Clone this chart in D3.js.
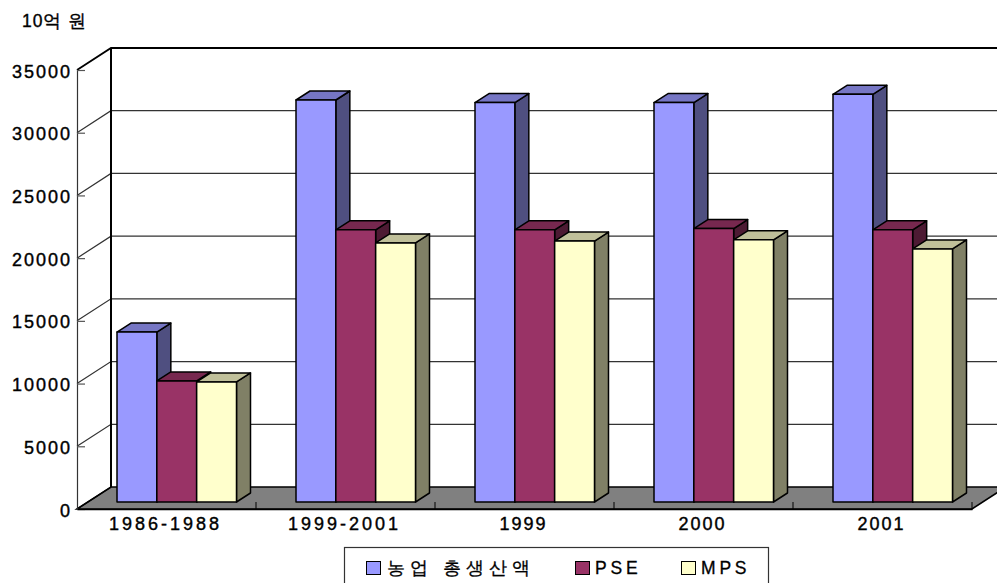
<!DOCTYPE html>
<html lang="ko">
<head>
<meta charset="utf-8">
<script src="https://cdn.jsdelivr.net/npm/d3@7"></script>
<style>
html,body{margin:0;padding:0;background:#fff;overflow:hidden}
svg{display:block}
text{font-family:"Liberation Sans",Arial,sans-serif;fill:#000}
</style>
</head>
<body>
<svg id="chart" width="997" height="583"></svg>
<script>
// Values in billions of won
const categories = ["1986-1988","1999-2001","1999","2000","2001"];
const seriesNames = ["농업 총생산액","PSE","MPS"];
const totalOutput = [13550,32050,31850,31850,32500];
const pse = [9650,21700,21700,21800,21700];
const mps = [9570,20650,20800,20900,20180];
const yTicks = [0,5000,10000,15000,20000,25000,30000,35000];
const frontColors = ["#9999ff","#993366","#ffffcc"];
const topColors = ["#7676c4","#77284f","#c0c09a"];
const sideColors = ["#4f4f80","#4d1a33","#808066"];

const series = [totalOutput,pse,mps];
const svg = d3.select("#chart");

// Oblique projection: the wall sits behind the front plane by (depthX, depthY)
const depthX = 34, depthY = -22;
const barShiftX = 10.5, barShiftY = -7;
const barDepthX = 14, barDepthY = -9;

const x = d3.scaleBand().domain(categories).range([77,972]);
const y = d3.scaleLinear().domain([0,35000]).range([509,70]);
const xInner = d3.scaleBand().domain(d3.range(series.length)).range([29.5,149]);

// Floor
svg.append("polygon")
  .attr("points",[[77,y(0)],[77+depthX,y(0)+depthY],[972+depthX,y(0)+depthY],[972,y(0)]].join(" "))
  .attr("fill","#808080").attr("stroke","#000").attr("stroke-width",1.6);

// Gridlines on both the side wall and the back wall
const grid = svg.append("g");
yTicks.filter(d=>d>0).forEach(d=>{
  const top = d===35000;
  grid.append("path")
    .attr("d",`M77,${y(d)}L${77+depthX},${y(d)+depthY}H997`)
    .attr("fill","none").attr("stroke",top?"#000":"#333")
    .attr("stroke-width",top?1.8:1.2);
});
grid.append("path").attr("d",`M77,${y(0)}L${77+depthX},${y(0)+depthY}`).attr("stroke","#000").attr("stroke-width",1.2);
grid.append("line").attr("x1",77+depthX).attr("x2",77+depthX)
  .attr("y1",y(35000)+depthY).attr("y2",y(0)+depthY)
  .attr("stroke","#000").attr("stroke-width",2);

// Value axis on the front edge
const yAxis = d3.axisRight(y).tickValues(yTicks).tickSize(8).tickPadding(0).tickFormat("");
svg.append("g").attr("transform","translate(77,0)").call(yAxis)
  .call(g=>g.selectAll("path").attr("stroke","#333").attr("stroke-width",1.2))
  .call(g=>g.selectAll("line").attr("stroke","#555").attr("stroke-width",1.2));
svg.append("g").selectAll("text").data(yTicks).join("text")
  .attr("x",72).attr("y",d=>y(d)+7.5).attr("text-anchor","end")
  .attr("font-size",18).attr("letter-spacing",2).attr("stroke","#000").attr("stroke-width",0.4)
  .text(d=>d);

// Category axis with separators between groups
const xAxis = d3.axisBottom(x).tickSize(0).tickPadding(0).tickFormat("");
svg.append("g").attr("transform",`translate(0,${y(0)})`).call(xAxis)
  .call(g=>g.selectAll("path").attr("stroke","#000").attr("stroke-width",1.6));
svg.append("g").selectAll("line").data(categories).join("line")
  .attr("x1",d=>x(d)+x.bandwidth()).attr("x2",d=>x(d)+x.bandwidth())
  .attr("y1",y(0)-7).attr("y2",y(0))
  .attr("stroke","#000").attr("stroke-width",1);
svg.append("g").selectAll("text").data(categories).join("text")
  .attr("x",d=>x(d)+x.bandwidth()/2-1).attr("y",530).attr("text-anchor","middle")
  .attr("font-size",18).attr("letter-spacing",d=>d.includes("-")?3:2).attr("stroke","#000").attr("stroke-width",0.4)
  .text(d=>d);

// Bars: each is a front, top and side face
const bars = svg.append("g").attr("stroke","#000").attr("stroke-width",1.5).attr("stroke-linejoin","round");
categories.forEach((c,ci)=>{
  series.forEach((vals,si)=>{
    const x0 = x(c)+xInner(si)+barShiftX;
    const x1 = x0+xInner.bandwidth();
    const yTop = y(vals[ci])+barShiftY;
    const yBase = y(0)+barShiftY;
    const g = bars.append("g");
    g.append("polygon").attr("fill",sideColors[si])
      .attr("points",[[x1,yTop],[x1+barDepthX,yTop+barDepthY],[x1+barDepthX,yBase+barDepthY],[x1,yBase]].join(" "));
    g.append("polygon").attr("fill",topColors[si])
      .attr("points",[[x0,yTop],[x0+barDepthX,yTop+barDepthY],[x1+barDepthX,yTop+barDepthY],[x1,yTop]].join(" "));
    g.append("rect").attr("fill",frontColors[si])
      .attr("x",x0).attr("y",yTop).attr("width",x1-x0).attr("height",yBase-yTop);
  });
});

// Unit label
svg.append("text").attr("x",22).attr("y",27).attr("font-size",17.5).attr("letter-spacing",1)
  .attr("font-family",'"Noto Sans CJK KR"').attr("font-weight",500)
  .attr("stroke","#000").attr("stroke-width",0.35).text("10억 원");

// Legend
const legend = svg.append("g");
legend.append("rect").attr("x",344.5).attr("y",547.5).attr("width",424).attr("height",60)
  .attr("fill","#fff").attr("stroke","#333").attr("stroke-width",1.2);
const legendSwatchX = [366.5,575.5,681.5];
const legendTextX = [387,595,701];
const legendSpacing = [5,3.8,3.8];
seriesNames.forEach((name,i)=>{
  legend.append("rect").attr("x",legendSwatchX[i]).attr("y",561.5).attr("width",14).attr("height",13)
    .attr("fill",frontColors[i]).attr("stroke","#000").attr("stroke-width",1);
  legend.append("text").attr("x",legendTextX[i]).attr("y",574)
    .attr("font-family",'"Noto Sans CJK KR"').attr("font-size",17.5).attr("font-weight",500)
    .attr("stroke","#000").attr("stroke-width",0.3)
    .attr("letter-spacing",legendSpacing[i]).text(name);
});
</script>
</body>
</html>
